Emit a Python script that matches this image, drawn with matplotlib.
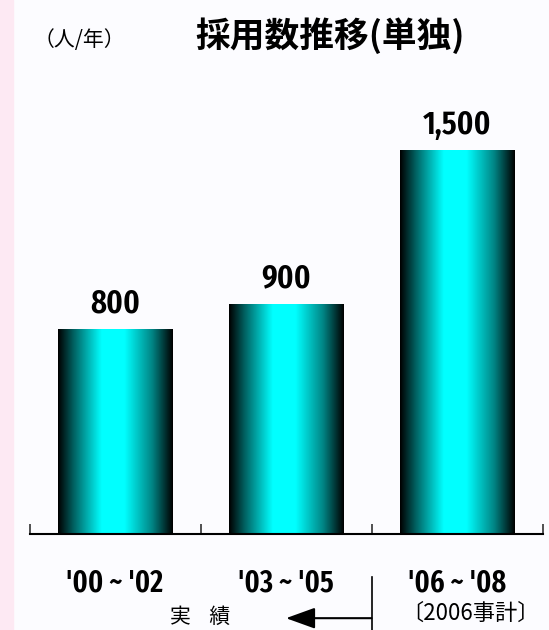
import numpy as np
import matplotlib
matplotlib.use('Agg')
import matplotlib.pyplot as plt
from matplotlib.colors import LinearSegmentedColormap

# data
periods = ["'00 ~ '02", "'03 ~ '05", "'06 ~ '08"]
hires = [800, 900, 1500]
value_labels = ['800', '900', '1,500']

title = '採用数推移(単独)'
unit = '（人/年）'
actual_label = '実    績'
plan_label = '〔2006事計〕'

jp = ['Noto Sans CJK JP', 'DejaVu Sans']
narrow = ['Fira Sans Extra Condensed', 'Archivo Narrow', 'DejaVu Sans']

fig = plt.figure(figsize=(5.49, 6.3), dpi=100)
fig.patch.set_facecolor('#fcfcff')
# pink strip on the left edge
fig.patches.append(plt.Rectangle((0, 0), 13 / 549, 1, transform=fig.transFigure,
                                 color='#fde9f3', zorder=0))

ax = fig.add_axes([29.5 / 549, 1 - 534 / 630, 513 / 549, 460 / 630])
ax.set_facecolor('none')

cmap = LinearSegmentedColormap.from_list('tube', [
    (0.0, '#000000'), (0.14, '#006464'), (0.38, '#00ffff'),
    (0.58, '#00ffff'), (0.82, '#008585'), (1.0, '#000000')])
grad = np.linspace(0, 1, 256).reshape(1, -1)

x = np.arange(len(periods))
width = 0.667
bars = ax.bar(x, hires, width=width, color='none', edgecolor='none')
for b, lab in zip(bars, value_labels):
    x0, w, h = b.get_x(), b.get_width(), b.get_height()
    ax.imshow(grad, cmap=cmap, extent=(x0, x0 + w, 0, h), aspect='auto', zorder=2)
    ax.annotate(lab, (x0 + w / 2, h), xytext=(0, 7), textcoords='offset points',
                ha='center', va='bottom', fontsize=24, fontweight='semibold', family=narrow)

ax.set_xlim(-0.5, len(periods) - 0.5)
ax.set_ylim(0, 1800)

for s in ['top', 'left', 'right']:
    ax.spines[s].set_visible(False)
ax.spines['bottom'].set_linewidth(1.5)
ax.set_yticks([])
ax.set_xticks(np.arange(len(periods) + 1) - 0.5)
ax.set_xticklabels([])
ax.tick_params(axis='x', direction='in', length=7.5, width=1.2, colors='#333333')

trans = ax.get_xaxis_transform()
for xi, p in zip(x, periods):
    ax.text(xi, -0.107, p, transform=trans, ha='center', va='center',
            fontsize=22, fontweight='semibold', family=narrow)

ax.text(2.08, -0.172, plan_label, transform=trans, ha='center', va='center',
        fontsize=16, family=jp)

# arrow showing actual results
ax.plot([1.5, 1.5], [-0.093, -0.21], transform=trans, color='black', lw=1.2, clip_on=False)
ax.annotate('', xy=(1.0, -0.183), xytext=(1.5, -0.183), xycoords=trans, textcoords=trans,
            arrowprops=dict(arrowstyle='-|>,head_length=1.8,head_width=0.65',
                            color='black', lw=1.5, shrinkA=0, shrinkB=0))
ax.text(0.5, -0.181, actual_label, transform=trans, ha='center', va='center',
        fontsize=15, family=jp)

fig.text(330 / 549, 1 - 36 / 630, title, ha='center', va='center',
         fontsize=25, fontweight='bold', family=jp)
fig.text(79 / 549, 1 - 40 / 630, unit, ha='center', va='center', fontsize=15, family=jp)

plt.savefig('out.png', dpi=100, facecolor=fig.get_facecolor())
